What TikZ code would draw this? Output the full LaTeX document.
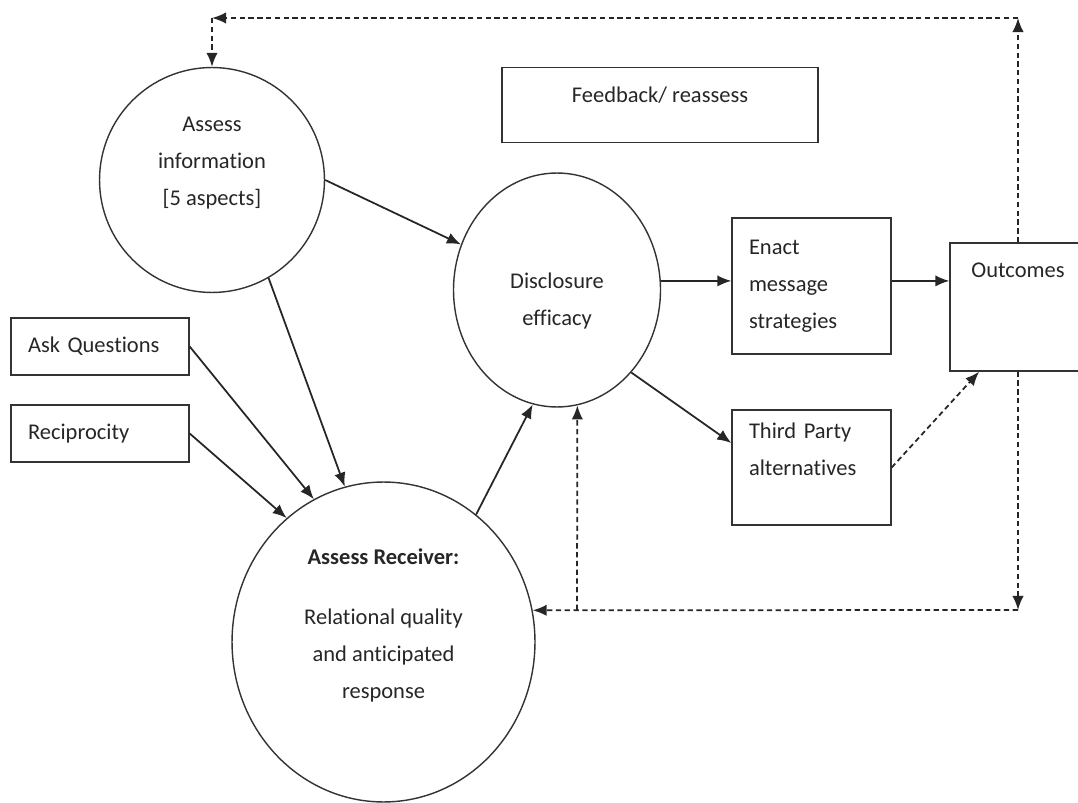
\documentclass[tikz,border=0pt]{standalone}
\usepackage{fontspec}
\setmainfont{Carlito}[Ligatures=NoCommon]
\usetikzlibrary{arrows.meta,shapes.geometric}

\tikzset{
  bubble/.style={draw=black!80, line width=0.8pt, text=black!85, align=center, inner sep=0pt},
  box/.style={draw=black!80, line width=0.8pt, text=black!85, rectangle, inner xsep=0.34cm, inner ysep=0pt},
  flow/.style={draw=black!85, line width=1pt, -{Latex[length=8pt,width=6.5pt]}},
  fb/.style={flow, dash pattern=on 3pt off 2pt}
}

\begin{document}
\begin{tikzpicture}[x=0.02cm, y=-0.02cm, font=\fontsize{12.8}{21}\selectfont]
\useasboundingbox (0,0) rectangle (1078,803);

\node[bubble, circle, minimum size=4.5cm] (info) at (212,180) {Assess\\information\\{}[5 aspects]\\~};
\node[bubble, ellipse, minimum width=4.14cm, minimum height=4.68cm] (disc) at (557,290) {~\\Disclosure\\efficacy};
\node[bubble, ellipse, minimum width=6.06cm, minimum height=6.4cm] (recv) at (383.5,642)
  {\textbf{Assess Receiver:}\\[13pt]Relational quality\\and anticipated\\response\\~};

\node[box, minimum width=3.56cm, minimum height=1.14cm, text width=2.88cm, align=left] (ask) at (100,346.5) {Ask Questions};
\node[box, minimum width=3.56cm, minimum height=1.14cm, text width=2.88cm, align=left] (recip) at (100,433.5) {Reciprocity};
\node[box, minimum width=6.32cm, minimum height=1.5cm, align=center, text depth=0.42cm] (feed) at (660,105) {Feedback/ reassess};
\node[box, minimum width=3.18cm, minimum height=2.72cm, text width=2.5cm, align=left] (enact) at (811.5,286) {Enact\\message\\strategies};
\node[box, minimum width=3.18cm, minimum height=2.3cm, text width=2.5cm, align=left] (third) at (811.5,467.5) {Third Party\\alternatives\\~};
\node[box, minimum width=2.72cm, minimum height=2.56cm, align=center] (out) at (1018,307) {Outcomes\\~\\~};

% feedback loops
\coordinate (t1) at (1018,18);
\coordinate (t2) at (212,18);
\coordinate (b1) at (1018,610);
\coordinate (b2) at (577,610);

\draw[fb] (out.north) -- (t1);
\draw[fb] (t1) -- (t2);
\draw[fb] (t2) -- (info.north);
\draw[fb] (out.south) -- (b1);
\draw[fb] (b1) -- (recv.12);
\draw[fb] (b2) -- (disc.-80);
\draw[fb] (third.east) -- (out.239);

% main flow
\draw[flow] (info.east) -- (disc);
\draw[flow] (info.-60) -- (recv.104);
\draw[flow] (ask.east) -- (recv.116);
\draw[flow] (recip.east) -- (recv.128);
\draw[flow] (recv.54) -- (disc.258);
\draw[flow] (disc.5) -- (disc.5 -| enact.west);
\draw[flow] (disc.5 -| enact.east) -- (disc.5 -| out.west);
\draw[flow] (disc.-48) -- (third.163);
\end{tikzpicture}
\end{document}
